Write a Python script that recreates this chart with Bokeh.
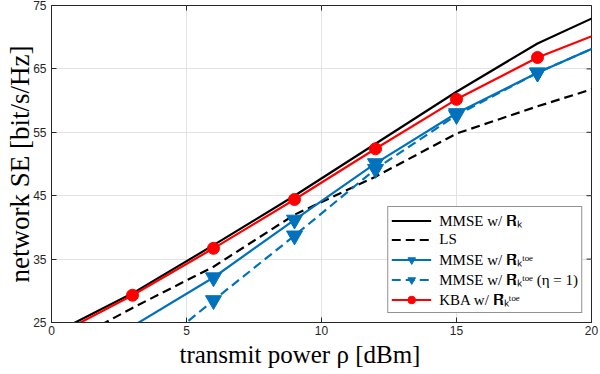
import math
from bokeh.plotting import figure
from bokeh.models import Range1d, FixedTicker, Legend, LegendItem, Title
from bokeh.embed import file_html
from bokeh.resources import INLINE

# ---- data ----
power_dbm = [0, 3, 6, 9, 12, 15, 18, 21]
se_mmse_R = [23.1, 29.6, 37.2, 45.0, 53.2, 61.4, 69.0, 74.9]
se_ls = [20.4, 27.3, 33.8, 42.0, 48.0, 54.8, 59.1, 63.1]
se_mmse_toe = [17.5, 24.4, 32.1, 41.2, 50.1, 58.0, 64.4, 70.0]
se_mmse_toe_eta1 = [10.0, 18.0, 28.5, 38.7, 49.2, 57.7, 64.4, 70.0]
se_kba_toe = [22.6, 29.3, 36.7, 44.4, 52.4, 60.2, 66.8, 71.8]

x_ticks = [0, 5, 10, 15, 20]
y_ticks = [25, 35, 45, 55, 65, 75]
x_lim = (0, 20)
y_lim = (25, 75)

x_label = "transmit power \u03C1 [dBm]"
y_label = "network SE [bit/s/Hz]"
labels = [
    "MMSE w/ \U0001D411\u2096",
    "LS",
    "MMSE w/ \U0001D411\u0302\u2096\u1D57\u1D52\u1D49",
    "MMSE w/ \U0001D411\u0302\u2096\u1D57\u1D52\u1D49 (\u03B7 = 1)",
    "KBA w/ \U0001D411\u0302\u2096\u1D57\u1D52\u1D49",
]

BLUE = "#0072BD"
RED = "#FF0000"
AX = "#262626"


def marker_points(xs, ys):
    mx, my = [], []
    for xv, yv in zip(xs, ys):
        if x_lim[0] < xv < x_lim[1] and yv >= y_lim[0]:
            mx.append(xv)
            my.append(yv)
    return mx, my


p = figure(width=600, height=374,
           x_range=Range1d(*x_lim), y_range=Range1d(*y_lim),
           output_backend="svg", toolbar_location=None,
           min_border_left=51, min_border_right=9,
           min_border_top=5, min_border_bottom=52)
p.background_fill_color = "white"
p.border_fill_color = "white"
p.outline_line_color = AX
p.outline_line_width = 1

for ax in (p.xaxis[0], p.yaxis[0]):
    ax.axis_line_color = AX
    ax.major_tick_line_color = AX
    ax.major_tick_in = 5
    ax.major_tick_out = 0
    ax.minor_tick_line_color = None
    ax.major_label_text_font = "Liberation Sans"
    ax.major_label_text_font_size = "12px"
    ax.major_label_text_color = AX
    ax.axis_label_text_font = "Liberation Serif"
    ax.axis_label_text_font_style = "normal"
    ax.axis_label_text_color = "black"

p.yaxis[0].axis_label_text_font_size = "27px"
p.xaxis[0].ticker = FixedTicker(ticks=x_ticks)
p.yaxis[0].ticker = FixedTicker(ticks=y_ticks)
p.yaxis[0].axis_label = y_label
p.xaxis[0].major_label_standoff = 3
p.yaxis[0].major_label_standoff = 5
p.yaxis[0].axis_label_standoff = -5

# x-axis title (slightly left of centre, as in the reference)
p.add_layout(Title(text=x_label, align="left", offset=128, standoff=3,
                   text_font="Liberation Serif", text_font_size="25px",
                   text_font_style="normal", text_color="black"), "below")

p.xgrid.ticker = FixedTicker(ticks=x_ticks)
p.ygrid.ticker = FixedTicker(ticks=y_ticks)
p.grid.grid_line_color = "#e3e3e3"
p.grid.grid_line_width = 1

# mirrored inward ticks on the right and top edges of the box
p.scatter([x_lim[1]] * len(y_ticks), y_ticks, marker="dash", size=10,
          line_color=AX, line_width=1)
p.scatter(x_ticks, [y_lim[1]] * len(x_ticks), marker="dash", size=10,
          angle=math.pi / 2, line_color=AX, line_width=1)

lw = 2.2
r_R = p.line(power_dbm, se_mmse_R, line_color="black", line_width=lw)
r_ls = p.line(power_dbm, se_ls, line_color="black", line_width=lw, line_dash="9 5")
r_toe = p.line(power_dbm, se_mmse_toe, line_color=BLUE, line_width=lw)
mx, my = marker_points(power_dbm, se_mmse_toe)
m_toe = p.scatter(mx, my, marker="inverted_triangle", size=16, fill_color=BLUE, line_color=BLUE)
r_eta = p.line(power_dbm, se_mmse_toe_eta1, line_color=BLUE, line_width=lw, line_dash="9 5")
mx, my = marker_points(power_dbm, se_mmse_toe_eta1)
m_eta = p.scatter(mx, my, marker="inverted_triangle", size=16, fill_color=BLUE, line_color=BLUE)
r_kba = p.line(power_dbm, se_kba_toe, line_color=RED, line_width=lw)
mx, my = marker_points(power_dbm, se_kba_toe)
m_kba = p.scatter(mx, my, marker="circle", size=12, fill_color=RED, line_color=RED)

legend = Legend(items=[
    LegendItem(label=labels[0], renderers=[r_R]),
    LegendItem(label=labels[1], renderers=[r_ls]),
    LegendItem(label=labels[2], renderers=[r_toe, m_toe]),
    LegendItem(label=labels[3], renderers=[r_eta, m_eta]),
    LegendItem(label=labels[4], renderers=[r_kba, m_kba]),
], location="bottom_right")
legend.margin = 9
legend.padding = 3
legend.spacing = -2
legend.label_height = 19
legend.glyph_height = 19
legend.glyph_width = 40
legend.label_standoff = 8
legend.label_text_font = "Liberation Serif"
legend.label_text_font_size = "15px"
legend.label_text_color = "black"
legend.border_line_color = AX
legend.border_line_width = 1
legend.background_fill_color = "white"
legend.background_fill_alpha = 1
p.add_layout(legend, "center")

open("out.html", "w").write(file_html(p, INLINE))
